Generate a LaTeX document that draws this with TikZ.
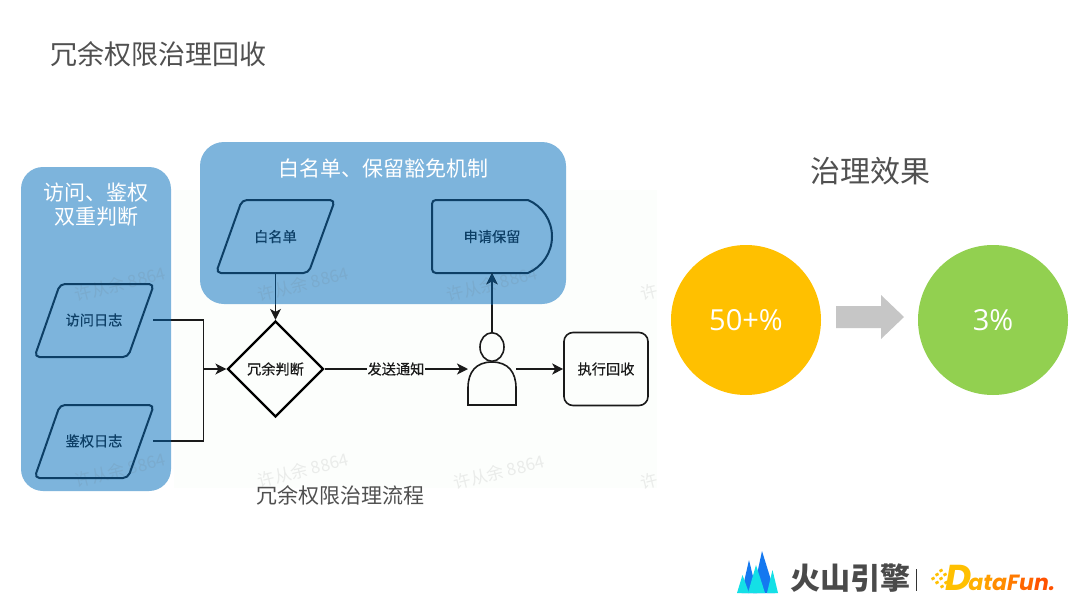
\documentclass[tikz,border=0pt]{standalone}
\usepackage{fontspec}
\setmainfont{Noto Sans CJK SC}
\newfontfamily\cjkmid[FakeBold=0.35]{Noto Sans CJK SC}
\newfontfamily\latinf{Open Sans}
\newfontfamily\logof{Poppins}
\usetikzlibrary{arrows.meta,shapes.geometric}
\definecolor{panelblue}{HTML}{7DB4DC}
\definecolor{navy}{HTML}{0D3F66}
\definecolor{darktext}{HTML}{1A1A1A}
\definecolor{titlegray}{HTML}{505050}
\definecolor{wmgray}{HTML}{6A6A6A}
\definecolor{amber}{HTML}{FFC000}
\definecolor{leaf}{HTML}{92D050}
\definecolor{arrowgray}{HTML}{C6C6C6}
\definecolor{mcyan}{HTML}{14E0E6}
\definecolor{mblue}{HTML}{1478F0}
\definecolor{logogray}{HTML}{4A4A4A}
\definecolor{pagetint}{HTML}{FCFEFC}
\definecolor{fa}{HTML}{FFB000}
\definecolor{fb}{HTML}{FF9E00}
\definecolor{fc}{HTML}{FF8C00}
\definecolor{fd}{HTML}{FF7A00}
\definecolor{fe}{HTML}{FF6600}
\definecolor{ff}{HTML}{FF5200}
\newcommand{\fsz}[1]{\fontsize{#1}{#1}\selectfont}
\tikzset{
  panel/.style={fill=panelblue,draw=none,rounded corners=#1},
  panelhead/.style={text=white,font=\fsz{21},inner sep=0pt,align=center},
  innershape/.style={draw=navy,line width=2pt,rounded corners=5pt,line join=round},
  innerlabel/.style={text=navy,font=\cjkmid\fsz{14.2},inner sep=0pt},
  blackshape/.style={draw=darktext,line width=1.6pt},
  flowlabel/.style={text=darktext,font=\cjkmid\fsz{14.2},inner sep=0pt},
  conn/.style={line width=1.5pt},
  tip/.style={-{Stealth[length=11pt,width=11pt,inset=3pt]}},
  watermark/.style={text=wmgray,opacity=0.12,font=\fsz{17},rotate=14,inner sep=0pt},
  headline/.style={text=titlegray,inner sep=0pt},
  bignum/.style={text=white,font=\latinf\fsz{29},inner sep=0pt},
  logoletter/.style={font=\logof\bfseries\itshape\fsz{22},inner sep=0pt,anchor=base west},
}
\newcommand{\connectors}{%
  \draw[conn] (log1.east) -- (join |- log1.east) -- (join);
  \draw[conn] (log2.east) -- (join |- log2.east) -- (join);
  \draw[conn,tip] (join) -- (judge.west);
  \draw[conn,tip] (wl.south) -- (judge.north);
  \draw[conn,tip] (judge.east) -- (pbodyw);
  \draw[conn,tip] (pheadn) -- (keep.south);
  \draw[conn,tip] (pbodye) -- (exec.west);
}
\begin{document}
\begin{tikzpicture}[x=1pt,y=-1pt]
\useasboundingbox (0,0) rectangle (1080,608);
\fill[white] (0,0) rectangle (1080,608);
\fill[pagetint] (174,190) rectangle (657,488);

% title
\node[headline,font=\fsz{27},anchor=west] (title) at (50,54) {冗余权限治理回收};

% panels
\path[panel=22pt] (21,167) rectangle (171,491);
\path[panel=24pt] (200,142) rectangle (566,304);
\node[panelhead] (headL) at (96,204.5) {访问、鉴权\\[3pt]双重判断};
\node[panelhead] (headT) at (383,168) {白名单、保留豁免机制};

% watermarks
\foreach \wx/\wy [count=\i] in {120/284,303/284,492/284,120/470,303/470,499/472}
  \node[watermark] (wm\i) at (\wx,\wy) {许从余 8864};
\node[watermark] (wmr1) at (649,292) {许};
\node[watermark] (wmr2) at (649,481) {许};

% parallelograms
\draw[innershape] (60,284) -- (154,284) -- (128,357) -- (34.5,357) -- cycle;
\node[innerlabel,minimum width=118pt,minimum height=73pt] (log1) at (94,320) {访问日志};
\draw[innershape] (60,405) -- (154,405) -- (128,478) -- (34.5,478) -- cycle;
\node[innerlabel,minimum width=118pt,minimum height=73pt] (log2) at (94,441) {鉴权日志};
\draw[innershape] (242,200) -- (335,200) -- (308.5,273) -- (216,273) -- cycle;
\node[innerlabel,minimum width=118pt,minimum height=73pt] (wl) at (275.5,236.5) {白名单};

% request shape
\draw[draw=navy,line width=2pt,line join=round] (436,200) -- (528,200)
  .. controls (542,206) and (552,220) .. (552,236.5)
  .. controls (552,253) and (542,267) .. (528,273) -- (436,273)
  .. controls (433.5,273) and (432,271.5) .. (432,269) -- (432,204)
  .. controls (432,201.5) and (433.5,200) .. (436,200) -- cycle;
\node[innerlabel,minimum width=120pt,minimum height=73pt] (keep) at (492,236.5) {申请保留};

% judge
\node[diamond,aspect=1,draw=black,line width=2.2pt,minimum size=96pt,inner sep=0pt,flowlabel] (judge) at (275.5,369) {冗余判断};
\coordinate (join) at (203.5,369);

% person
\draw[blackshape] (468,405) -- (468,388) .. controls (468,372) and (476,362) .. (492,362)
  .. controls (508,362) and (516,372) .. (516,388) -- (516,405) -- cycle;
\node[ellipse,blackshape,minimum width=24pt,minimum height=28.5pt,inner sep=0pt] (phead) at (492,347) {};
\coordinate (pheadn) at (phead.north);
\coordinate (pbodyw) at (468,369);
\coordinate (pbodye) at (516,369);

% exec
\node[draw=darktext,line width=1.6pt,rounded corners=9pt,minimum width=84pt,minimum height=73pt,flowlabel] (exec) at (606,369) {执行回收};

% connectors, black outside the panels and navy inside
\begin{scope}[color=darktext]
\connectors
\end{scope}
\begin{scope}
\clip (21,167) rectangle (171,491);
\begin{scope}[color=navy]\connectors\end{scope}
\end{scope}
\begin{scope}
\clip (200,142) rectangle (566,304);
\begin{scope}[color=navy]\connectors\end{scope}
\end{scope}

\node[fill=pagetint,flowlabel,inner xsep=1pt,inner ysep=2pt] (send) at (396,369) {发送通知};

% caption
\node[headline,font=\fsz{21}] (caption) at (340.5,495) {冗余权限治理流程};

% effect
\node[headline,font=\fsz{30}] (effect) at (870,171) {治理效果};
\node[circle,fill=amber,minimum size=150pt,inner sep=0pt,bignum] (before) at (746,320) {50+\%};
\node[circle,fill=leaf,minimum size=150pt,inner sep=0pt,bignum] (after) at (993,320) {3\%};
\fill[arrowgray] (836,306) -- (881,306) -- (881,295) -- (904,317) -- (881,339) -- (881,328) -- (836,328) -- cycle;

% logo
\fill[mblue] (741.5,593) -- (749,560) -- (757,593) -- cycle;
\fill[mblue] (753,593) -- (762,551) -- (775,593) -- cycle;
\fill[mcyan] (737,593) -- (742.5,575) -- (749,593) -- cycle;
\fill[mcyan] (767,593) -- (772.5,570) -- (778,593) -- cycle;
\fill[mcyan] (748,593) -- (756,565) -- (765,593) -- cycle;
\node[inner sep=0pt,text=logogray,font=\bfseries\fsz{30}] (vol) at (850,578.5) {火山引擎};
\fill[black!80] (915.5,569) rectangle (916.7,591);
\foreach \sx/\sy in {931/578, 935/574, 939/570, 935/582, 939/578, 943/574, 940/586, 944/582}
  \fill[amber] (\sx,\sy) -- ++(3,-1.5) -- ++(1,2.5) -- ++(-3,1.5) -- cycle;
\node[logoletter] (dataname) at (945,590) {\textcolor{amber}{\fsz{36}D}\kern-3pt\textcolor{fa}{a}\textcolor{fb}{t}\textcolor{fc}{a}\textcolor{fd}{F}\textcolor{fe}{u}\textcolor{ff}{n.}};
\end{tikzpicture}
\end{document}
